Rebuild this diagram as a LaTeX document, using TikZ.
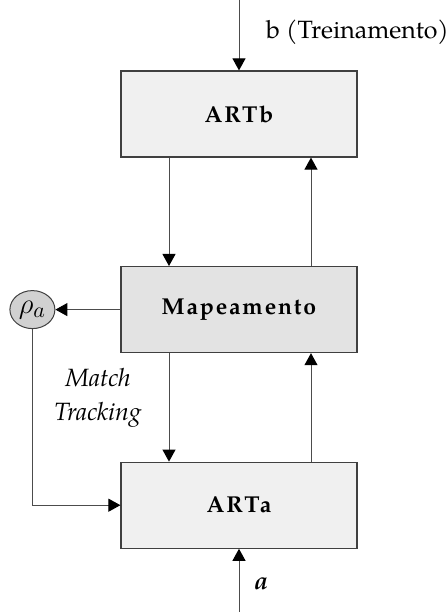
\documentclass[tikz,border=0pt]{standalone}
\usepackage{fontspec}
\setmainfont{TeX Gyre Pagella}
\usetikzlibrary{arrows.meta,shapes.geometric}
\tikzstyle{bloco}=[draw=black!75, fill=black!6, line width=0.6pt,
  minimum width=118pt, minimum height=43pt,
  font=\fontsize{11.5}{14}\selectfont\bfseries\addfontfeature{LetterSpace=8}]
\tikzstyle{circulo}=[ellipse, draw=black!75, fill=black!18, line width=0.5pt,
  minimum width=22.5pt, minimum height=19pt, inner sep=0pt,
  font=\fontsize{15}{17}\selectfont]
\tikzstyle{texto}=[font=\fontsize{12.5}{15}\selectfont]
\tikzstyle{linha}=[draw, color=black!70, line width=0.5pt,
  -{Triangle[width=6.5pt,length=6pt,color=black]}]
\newcommand{\bloco}[3]{node (b#1) [bloco,#2] {#3}}

\begin{document}
\begin{tikzpicture}[x=0.5pt,y=0.5pt]
\useasboundingbox (0,0) rectangle (447,612);

% Blocos
\path (239,498)                \bloco{b}{}{ARTb};
\path (bb.south)+(0,-152)      \bloco{m}{fill=black!11}{Mapeamento};
\path (bm.south)+(0,-152)      \bloco{a}{}{ARTa};

% Vigilancia
\path (bm.west)+(-88,0) node (rho) [circulo] {$\rho_a$};

% Entradas
\path (bb.north)+(0,71) coordinate (entb);
\path (ba.south)+(0,-65) coordinate (enta);

% Setas
\path [linha] (entb) -- (bb.north);
\path [linha] ([xshift=-35pt]bb.south) -- ([xshift=-35pt]bm.north);
\path [linha] ([xshift=36pt]bm.north) -- ([xshift=36pt]bb.south);
\path [linha] ([xshift=-35pt]bm.south) -- ([xshift=-35pt]ba.north);
\path [linha] ([xshift=36pt]ba.north) -- ([xshift=36pt]bm.south);
\path [linha] (bm.west) -- (rho.east);
\path [linha] (rho.south) |- (ba.west);
\path [linha] (enta) -- (ba.south);

% Rotulos
\path (entb)+(20,-33) node (rotb) [texto, right] {b (Treinamento)};
\path (enta)+(8,30) node (rota) [texto, right] {\textbf{\textit{a}}};
\path (98,214) node (match) [texto, align=center,
  font=\fontsize{12.5}{17}\selectfont\itshape] {Match\\Tracking};

\end{tikzpicture}
\end{document}
